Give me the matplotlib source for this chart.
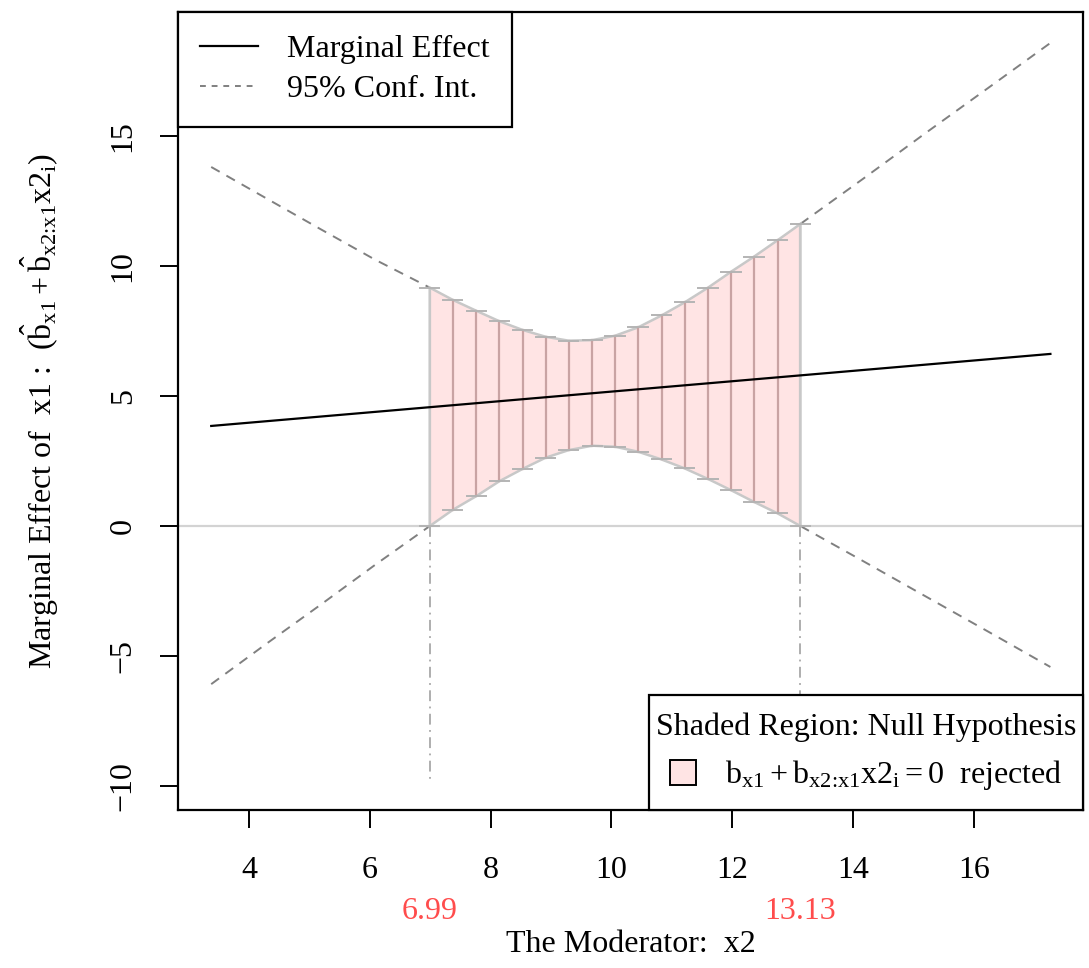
# marginal effect plot, R-style look
import matplotlib
matplotlib.use("Agg")
import matplotlib.pyplot as plt
from matplotlib.lines import Line2D
from matplotlib.patches import Patch, Rectangle

plt.rcParams['font.family'] = ['Liberation Serif', 'DejaVu Serif']
plt.rcParams['mathtext.fontset'] = 'custom'
plt.rcParams['mathtext.rm'] = 'Liberation Serif'
plt.rcParams['mathtext.it'] = 'Liberation Serif'
plt.rcParams['mathtext.bf'] = 'Liberation Serif:bold'
plt.rcParams['mathtext.default'] = 'rm'

# data ===============================================================================
# marginal effect line (straight)
me_x = [3.37, 17.27]
me_y = [3.85, 6.62]

# confidence band outside the shaded region
left_x = [3.37, 4.27, 5.18, 6.08, 6.99]
left_upper = [13.81, 12.62, 11.42, 10.25, 9.17]
left_lower = [-6.08, -4.55, -3.03, -1.50, 0.00]

right_x = [13.13, 14.17, 15.20, 16.24, 17.27]
right_upper = [11.62, 13.36, 15.11, 16.85, 18.58]
right_lower = [0.00, -1.35, -2.70, -4.06, -5.42]

# shaded region: bars between the bounds
bar_x = [6.99, 7.37, 7.76, 8.14, 8.53, 8.91, 9.29, 9.68, 10.06,
         10.44, 10.83, 11.21, 11.60, 11.98, 12.36, 12.75, 13.13]
bar_upper = [9.17, 8.70, 8.28, 7.88, 7.54, 7.28, 7.13, 7.15, 7.32,
             7.64, 8.10, 8.60, 9.17, 9.78, 10.36, 10.99, 11.62]
bar_lower = [0.00, 0.62, 1.15, 1.72, 2.20, 2.63, 2.92, 3.09, 3.05,
             2.86, 2.56, 2.22, 1.81, 1.38, 0.93, 0.49, 0.00]

cutoffs = [6.99, 13.13]
cutoff_labels = ['6.99', '13.13']
cutoff_bottom = -9.83

x_ticks = [4, 6, 8, 10, 12, 14, 16]
y_ticks = [-10, -5, 0, 5, 10, 15]

# styles
fs = 23
pink = '#ffe4e4'
band_gray = '#808080'
edge_gray = '#c8c8c8'
bar_col = '#c9a3a3'
red = '#ff4c4c'


def main():
    fig = plt.figure(figsize=(10.89, 9.68), dpi=100)
    ax = fig.add_axes([178 / 1089, 1 - 810 / 968, (1083 - 178) / 1089, (810 - 12) / 968])
    ax.set_xlim(2.82, 17.81)
    ax.set_ylim(-10.92, 19.77)

    # zero line
    ax.axhline(0, color='#d3d3d3', lw=1.6, zorder=1)

    # dashed CI lines outside
    for xs, ys in [(left_x, left_upper), (left_x, left_lower),
                   (right_x, right_upper), (right_x, right_lower)]:
        ax.plot(xs, ys, color=band_gray, lw=1.4, dashes=(5, 4), zorder=2)

    # shaded polygon
    poly_x = bar_x + bar_x[::-1]
    poly_y = bar_upper + bar_lower[::-1]
    ax.fill(poly_x, poly_y, facecolor=pink, edgecolor=edge_gray, lw=1.8, zorder=2)

    # vertical bars with caps
    cap = 0.16
    for i, (x, lo, hi) in enumerate(zip(bar_x, bar_lower, bar_upper)):
        c = edge_gray if i in (0, len(bar_x) - 1) else bar_col
        ax.plot([x, x], [lo, hi], color=c, lw=1.6, zorder=3)
        ax.plot([x - cap, x + cap], [hi, hi], color='#b4b4b4', lw=1.4, zorder=3)
        ax.plot([x - cap, x + cap], [lo, lo], color='#b4b4b4', lw=1.4, zorder=3)

    # dash-dot verticals at the cutoffs
    for x in cutoffs:
        ax.plot([x, x], [0, cutoff_bottom], color='#a8a8a8', lw=1.3,
                dashes=(6, 3, 1, 3), zorder=2)

    # marginal effect
    ax.plot(me_x, me_y, color='black', lw=1.6, zorder=4)

    # axes look
    for sp in ax.spines.values():
        sp.set_linewidth(1.6)
    ax.set_xticks(x_ticks)
    ax.set_yticks(y_ticks)
    ax.set_yticklabels(['\u221210', '\u22125', '0', '5', '10', '15'])
    ax.tick_params(direction='out', length=13, width=1.4, labelsize=fs)
    ax.tick_params(axis='x', pad=20)
    ax.tick_params(axis='y', labelrotation=90, pad=16)
    for lab in ax.get_yticklabels():
        lab.set_va('center')

    # cutoff labels in red
    for x, lab in zip(cutoffs, cutoff_labels):
        ax.annotate(lab, xy=(x, 0), xycoords=('data', 'axes fraction'),
                    xytext=(0, -73), textcoords='offset points',
                    ha='center', va='center', color=red, fontsize=fs)

    fig.text((178 + 1083) / 2 / 1089, 1 - 945 / 968, 'The Moderator:  x2',
             ha='center', va='center', fontsize=fs)
    fig.text(40 / 1089, 1 - 411 / 968,
             r'Marginal Effect of  x1 :  $(\hat{b}_{x1}+\hat{b}_{\text{x2:x1}}x2_{i})$',
             ha='center', va='center', rotation=90, fontsize=fs)

    # legends
    h1 = [Line2D([], [], color='black', lw=1.6),
          Line2D([], [], color=band_gray, lw=1.4, dashes=(3, 3))]
    leg1 = ax.legend(h1, ['Marginal Effect', '95% Conf. Int.'], loc='upper left',
                     borderaxespad=0, fancybox=False, edgecolor='black', framealpha=1,
                     fontsize=fs, handlelength=1.8, handletextpad=0.9,
                     borderpad=0.7, labelspacing=0.35)
    leg1.get_frame().set_linewidth(1.6)
    ax.add_artist(leg1)

    # shift right a bit so the side padding looks like R's legend
    shift = 11
    ab = ax.get_window_extent()
    h2 = [Patch(facecolor=pink, edgecolor='black', lw=1.4)]
    leg2 = ax.legend(h2, [r'$b_{x1}+b_{\text{x2:x1}}x2_{i}=0$  rejected'], loc='lower right',
                     bbox_to_anchor=(1 + shift / ab.width, 0),
                     title='Shaded Region: Null Hypothesis', title_fontsize=fs,
                     borderaxespad=0, frameon=False,
                     fontsize=fs, handlelength=0.8, handleheight=0.8, handletextpad=0.9,
                     borderpad=0.55)

    # R-style box: tight on the sides, roomy top/bottom
    fig.canvas.draw()
    bb = leg2.get_window_extent()
    ab = ax.get_window_extent()
    x0 = (bb.x0 + shift - ab.x0) / ab.width
    y1 = (bb.y1 - ab.y0) / ab.height
    ax.add_patch(Rectangle((x0, 0), 1 - x0, y1, transform=ax.transAxes,
                           facecolor='white', edgecolor='black', lw=1.6,
                           clip_on=False, zorder=4.9))

    fig.savefig('out.png', dpi=100)


if __name__ == "__main__":
    main()
